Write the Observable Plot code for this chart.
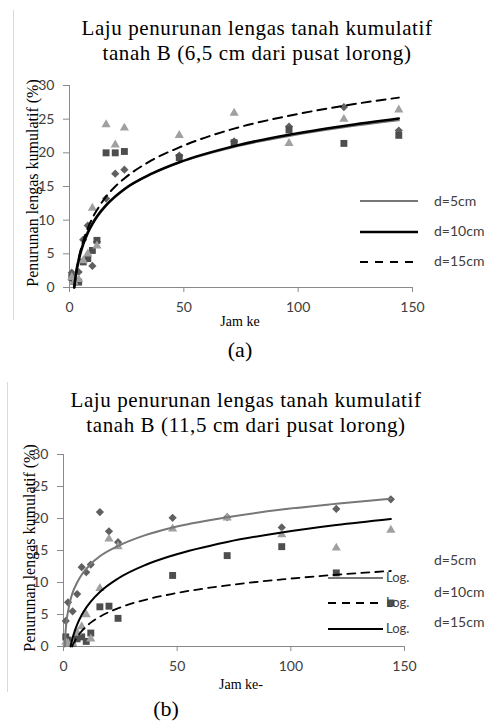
<!DOCTYPE html>
<html><head><meta charset="utf-8">
<script src="https://cdn.jsdelivr.net/npm/d3@7"></script>
<script src="https://cdn.jsdelivr.net/npm/@observablehq/plot@0.6"></script>
<style>
body{margin:0;background:#fff;}
#root{position:relative;width:490px;height:727px;overflow:hidden;background:#fff;}
.abs{position:absolute;white-space:nowrap;}
.serif{font-family:"Liberation Serif","Times New Roman",serif;color:#000;}
.sans{font-family:Lato,"Open Sans",sans-serif;color:#404040;}
svg.plot{position:absolute;overflow:visible;}
</style></head><body><div id="root"></div>
<script>
// ---------- data ----------
const hours = [1, 2, 4, 6, 8, 10, 12, 16, 20, 24, 48, 72, 96, 120, 144];

// chart (a): 6,5 cm dari pusat lorong
const aDiamond  = [2.2, 1.0, 2.3, 7.1, 9.2, 3.2, 6.8, 13.2, 16.9, 17.5, 19.6, 21.7, 23.9, 26.8, 23.3];
const aSquare   = [1.5, 0.9, 0.8, 3.8, 4.3, 5.5, 7.0, 20.0, 20.0, 20.2, 19.3, 21.5, 23.4, 21.4, 22.6];
const aTriangle = [1.5, 0.8, 1.2, 4.0, 5.0, 11.8, 6.2, 24.2, 21.2, 23.7, 22.6, 25.9, 21.4, 25.0, 26.4];

// trend lines (a)
const aTrend5Hours  = [1.85, 2, 2.5, 3, 4, 6, 8, 10, 12, 16, 20, 24, 36, 48, 72, 96, 120, 144];
const aTrend5Vals   = [0, 0.45, 1.72, 2.76, 4.40, 6.71, 8.35, 9.63, 10.66, 12.30, 13.58, 14.61, 16.93, 18.56, 20.88, 22.51, 23.79, 24.83];
const aTrend10Hours = [2.05, 2.5, 3, 4, 6, 8, 10, 12, 16, 20, 24, 36, 48, 72, 96, 120, 144];
const aTrend10Vals  = [0, 1.2, 2.3, 4.0, 6.4, 8.1, 9.4, 10.5, 12.2, 13.5, 14.6, 16.9, 18.6, 21.0, 22.7, 24.0, 25.1];
const aTrend15Hours = [2.14, 2.5, 3, 4, 6, 8, 10, 12, 16, 20, 24, 36, 48, 72, 96, 120, 144];
const aTrend15Vals  = [0, 1.0, 2.3, 4.2, 6.9, 8.8, 10.3, 11.5, 13.5, 15.0, 16.2, 18.9, 20.8, 23.6, 25.5, 27.0, 28.2];

// chart (b): 11,5 cm dari pusat lorong
const bDiamond  = [4.0, 6.9, 5.5, 8.2, 12.4, 11.6, 12.8, 21.0, 18.0, 16.3, 20.1, 20.2, 18.6, 21.5, 23.0];
const bSquare   = [1.5, 1.0, 0.5, 1.2, 1.5, 0.8, 2.1, 6.2, 6.3, 4.4, 11.1, 14.2, 15.6, 11.5, 6.8];
const bTriangle = [0.7, 0.5, 0.5, 2.2, 3.1, 5.0, 1.2, 9.1, 16.8, 15.6, 18.4, 20.1, 17.5, 15.4, 18.2];

const bTrend5Hours  = [0.52, 1, 1.5, 2, 3, 4, 6, 8, 12, 16, 24, 36, 48, 72, 96, 120, 144];
const bTrend5Vals   = [0, 2.7, 4.4, 5.5, 7.2, 8.4, 10.0, 11.2, 12.9, 14.1, 15.7, 17.4, 18.6, 20.2, 21.4, 22.3, 23.1];
const bTrend10Hours = [3.81, 4, 5, 6, 8, 10, 12, 16, 24, 36, 48, 72, 96, 120, 144];
const bTrend10Vals  = [0, 0.16, 0.88, 1.47, 2.41, 3.13, 3.73, 4.66, 5.98, 7.30, 8.23, 9.55, 10.48, 11.21, 11.80];
const bTrend15Hours = [3.11, 3.5, 4, 5, 6, 8, 10, 12, 16, 24, 36, 48, 72, 96, 120, 144];
const bTrend15Vals  = [0, 0.61, 1.31, 2.47, 3.42, 4.91, 6.07, 7.02, 8.52, 10.63, 12.74, 14.23, 16.34, 17.83, 18.99, 19.94];

const xTicks = [0, 50, 100, 150];
const yTicks = [0, 5, 10, 15, 20, 25, 30];
const legendLabels = ["d=5cm", "d=10cm", "d=15cm"];
const titleA = ["Laju penurunan lengas tanah kumulatif", "tanah B (6,5 cm dari pusat lorong)"];
const titleB = ["Laju penurunan lengas tanah kumulatif", "tanah B (11,5 cm dari pusat lorong)"];
const yLabel = "Penurunan lengas kumulatif (%)";

// ---------- helpers ----------
const root = document.getElementById("root");
const zip = (xs, ys) => xs.map((x, i) => ({x, y: ys[i]}));
function div(cls, text, css) {
  const d = document.createElement("div");
  d.className = "abs " + cls;
  d.textContent = text;
  Object.assign(d.style, css);
  root.appendChild(d);
  return d;
}
const C = {diamond: "#606060", square: "#4e4e4e", triangle: "#a0a0a0", gray: "#777777", axis: "#8a8a8a"};

function chart(o) {
  const marks = [
    Plot.ruleY([0], {x1: 0, x2: 150, stroke: C.axis, strokeWidth: 1}),
    Plot.ruleX([0], {y1: 0, y2: 30, stroke: C.axis, strokeWidth: 1}),
    Plot.axisY({ticks: yTicks, tickSize: 6, tickPadding: 9, stroke: C.axis, fill: "#404040",
      fontSize: 14, fontFamily: "Lato, sans-serif", label: null}),
    Plot.axisX({ticks: xTicks, tickSize: 5, tickPadding: 10, stroke: C.axis, fill: "#404040",
      fontSize: 14, fontFamily: "Lato, sans-serif", label: null}),
    Plot.dot(zip(hours, o.diamond), {x: "x", y: "y", symbol: "diamond2", r: 3.7, fill: C.diamond, stroke: null}),
    Plot.dot(zip(hours, o.square), {x: "x", y: "y", symbol: "square", r: 3.9, fill: C.square, stroke: null}),
    Plot.dot(zip(hours, o.triangle), {x: "x", y: "y", symbol: "triangle", r: 3.4, fill: C.triangle, stroke: null}),
    ...o.lines.map(l => Plot.line(zip(l.h, l.v), {x: "x", y: "y", curve: "monotone-x",
      stroke: l.stroke, strokeWidth: l.w, strokeDasharray: l.dash || null}))
  ];
  const svg = Plot.plot({
    width: 490, height: o.height,
    marginTop: o.mt, marginBottom: o.mb, marginLeft: o.ml, marginRight: o.mr,
    x: {domain: [0, 150]}, y: {domain: [0, 30]},
    style: {background: "transparent", overflow: "visible"},
    marks
  });
  svg.classList.add("plot");
  svg.style.left = "0px";
  svg.style.top = o.top + "px";
  root.appendChild(svg);
}

function legendLine(x1, x2, y, stroke, w, dash) {
  const ns = "http://www.w3.org/2000/svg";
  const s = document.createElementNS(ns, "svg");
  s.setAttribute("width", 490); s.setAttribute("height", 727);
  s.style.position = "absolute"; s.style.left = "0"; s.style.top = "0";
  const l = document.createElementNS(ns, "line");
  l.setAttribute("x1", x1); l.setAttribute("x2", x2); l.setAttribute("y1", y); l.setAttribute("y2", y);
  l.setAttribute("stroke", stroke); l.setAttribute("stroke-width", w);
  if (dash) l.setAttribute("stroke-dasharray", dash);
  s.appendChild(l);
  root.appendChild(s);
}
function vborder(x, y1, y2) {
  div("", "", {left: x + "px", top: y1 + "px", width: "1px", height: (y2 - y1) + "px", background: "#d9d9d9"});
}
const titleCss = {fontSize: "21px", lineHeight: "25px", letterSpacing: "0.6px", transform: "translateX(-50%)"};

// ---------- chart (a) ----------
vborder(13, 10, 320);
div("serif", titleA[0], {...titleCss, left: "257px", top: "16px"});
div("serif", titleA[1], {...titleCss, left: "257px", top: "41px"});
chart({top: 70, height: 260, mt: 15, mb: 43, ml: 69, mr: 78,
  diamond: aDiamond, square: aSquare, triangle: aTriangle,
  lines: [
    {h: aTrend5Hours, v: aTrend5Vals, stroke: C.gray, w: 2},
    {h: aTrend10Hours, v: aTrend10Vals, stroke: "#000", w: 2.5},
    {h: aTrend15Hours, v: aTrend15Vals, stroke: "#000", w: 2, dash: "9,6"}
  ]});
div("serif", yLabel, {left: "33px", top: "183px", fontSize: "16px", transform: "translate(-50%,-50%) rotate(-90deg)"});
div("serif", "Jam ke", {left: "240px", top: "322px", fontSize: "14px", transform: "translate(-50%,-50%)"});
div("serif", "(a)", {left: "240px", top: "350px", fontSize: "22px", transform: "translate(-50%,-50%)"});
legendLine(360, 418, 201, C.gray, 2);
legendLine(360, 418, 232, "#000", 2.5);
legendLine(360, 418, 262, "#000", 2, "8,7");
legendLabels.forEach((t, i) => div("sans", t, {left: "434px", top: [201, 231, 261][i] + "px", fontSize: "14px", transform: "translateY(-55%)"}));

// ---------- chart (b) ----------
vborder(7, 382, 692);
div("serif", titleB[0], {...titleCss, left: "246px", top: "388px"});
div("serif", titleB[1], {...titleCss, left: "246px", top: "413px"});
chart({top: 440, height: 260, mt: 14, mb: 54, ml: 63, mr: 86,
  diamond: bDiamond, square: bSquare, triangle: bTriangle,
  lines: [
    {h: bTrend5Hours, v: bTrend5Vals, stroke: C.gray, w: 2},
    {h: bTrend10Hours, v: bTrend10Vals, stroke: "#000", w: 1.8, dash: "8,6"},
    {h: bTrend15Hours, v: bTrend15Vals, stroke: "#000", w: 2}
  ]});
div("serif", yLabel, {left: "30px", top: "548px", fontSize: "16px", transform: "translate(-50%,-50%) rotate(-90deg)"});
div("serif", "Jam ke-", {left: "241px", top: "685px", fontSize: "14px", transform: "translate(-50%,-50%)"});
div("serif", "(b)", {left: "166px", top: "709px", fontSize: "22px", transform: "translate(-50%,-50%)"});
legendLabels.forEach((t, i) => div("sans", t, {left: "434px", top: [560, 592, 622][i] + "px", fontSize: "14px", transform: "translateY(-55%)"}));
legendLine(328, 383, 578, C.gray, 2);
legendLine(328, 383, 603, "#000", 1.8, "8,6");
legendLine(328, 383, 629, "#000", 2);
[578, 603, 629].forEach(y => div("sans", "Log.", {left: "386px", top: y + "px", fontSize: "13px", transform: "translateY(-55%)"}));
</script></body></html>
